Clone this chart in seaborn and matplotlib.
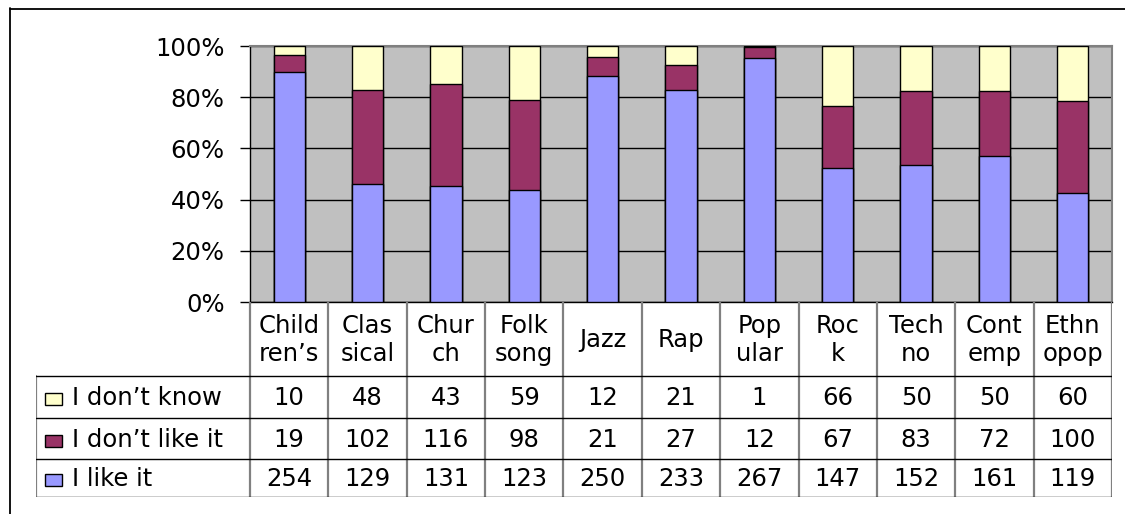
import numpy as np
import pandas as pd
import matplotlib
matplotlib.use("Agg")
import matplotlib.pyplot as plt
import seaborn as sns

categories = ["Child\nren\u2019s", "Clas\nsical", "Chur\nch", "Folk\nsong", "Jazz", "Rap",
              "Pop\nular", "Roc\nk", "Tech\nno", "Cont\nemp", "Ethn\nopop"]
dont_know = [10, 48, 43, 59, 12, 21, 1, 66, 50, 50, 60]
dont_like = [19, 102, 116, 98, 21, 27, 12, 67, 83, 72, 100]
like_it = [254, 129, 131, 123, 250, 233, 267, 147, 152, 161, 119]
series_names = ["I don\u2019t know", "I don\u2019t like it", "I like it"]
colors = ["#FFFFCC", "#993366", "#9999FF"]

sns.set_style("white")
plt.rcParams["font.family"] = ["DejaVu Sans"]
plt.rcParams["text.color"] = "black"
plt.rcParams["ytick.color"] = "black"
plt.rcParams["ytick.labelcolor"] = "black"
FS = 17.5

W, H = 1125, 514
fig = plt.figure(figsize=(W / 100, H / 100), dpi=100)

def fx(px):
    return px / W

def fy(py):
    return 1 - py / H

# outer figure border (left and top visible)
fig.add_artist(plt.Line2D([fx(9.5), fx(9.5)], [fy(8), 0], color="black", lw=1.3))
fig.add_artist(plt.Line2D([fx(9.5), 1], [fy(8.5), fy(8.5)], color="black", lw=1.3))

PL, PR, PT, PB = 250, 1112, 46, 302
ax = fig.add_axes([fx(PL), fy(PB), fx(PR - PL), fy(PT) - fy(PB)])

df = pd.DataFrame({"cat": range(len(categories)), "know": dont_know,
                   "dislike": dont_like, "like": like_it})
tot = df["know"] + df["dislike"] + df["like"]
df["top"] = 100.0
df["mid"] = (df["like"] + df["dislike"]) / tot * 100
df["low"] = df["like"] / tot * 100

for col, c in zip(["top", "mid", "low"], colors):
    sns.barplot(data=df, x="cat", y=col, color=c, width=0.4, ax=ax,
                edgecolor="black", linewidth=1.0, saturation=1, zorder=3)

ax.set_facecolor("#C0C0C0")
ax.set_xlim(-0.5, len(categories) - 0.5)
ax.set_ylim(0, 100)
ax.set_yticks([0, 20, 40, 60, 80, 100])
ax.set_yticklabels(["0%", "20%", "40%", "60%", "80%", "100%"], fontsize=FS, color="black")
ax.yaxis.grid(True, color="black", lw=1.0, zorder=1)
ax.set_axisbelow(True)
ax.tick_params(axis="y", length=7.2, width=1, color="black", pad=11, left=True)
ax.tick_params(axis="x", bottom=False, labelbottom=False)
ax.set_xlabel("")
ax.set_ylabel("")
for s in ["top", "right"]:
    ax.spines[s].set_color("#808080")
    ax.spines[s].set_linewidth(1.5)
ax.spines["left"].set_color("black")
ax.spines["bottom"].set_color("black")
ax.spines["left"].set_linewidth(1)
ax.spines["bottom"].set_linewidth(1)

# data table
TL, TB = 36, 497
tax = fig.add_axes([fx(TL), fy(TB), fx(PR - TL), fy(PB) - fy(TB)])
tax.set_xlim(TL, PR)
tax.set_ylim(TB, PB)
tax.axis("off")

n = len(categories)
cw = (PR - PL) / n
row_lines = [376, 418, 459, 497]
# vertical lines
for i in range(n + 1):
    x = PL + i * cw
    tax.plot([x, x], [PB, TB], color="#808080", lw=1.6, solid_capstyle="butt")
tax.plot([TL, TL], [row_lines[0], TB], color="#808080", lw=1.6)
for y in row_lines:
    tax.plot([TL, PR], [y, y], color="black", lw=1.0)

for i, cat in enumerate(categories):
    cx = PL + (i + 0.5) * cw
    tax.text(cx, (PB + row_lines[0]) / 2 + 1, cat, ha="center", va="center",
             fontsize=FS, linespacing=1.25, color="black")

rows = [dont_know, dont_like, like_it]
for r, (name, vals, c) in enumerate(zip(series_names, rows, colors)):
    y0, y1 = row_lines[r], row_lines[r + 1]
    yc = (y0 + y1) / 2 + 1
    tax.add_patch(plt.Rectangle((45, yc - 5), 17, 12, facecolor=c,
                                edgecolor="black", lw=1.0))
    tax.text(72, yc, name, ha="left", va="center", fontsize=FS, color="black")
    for i, v in enumerate(vals):
        cx = PL + (i + 0.5) * cw
        tax.text(cx, yc, str(v), ha="center", va="center", fontsize=FS, color="black")

fig.savefig("out.png", dpi=100)
